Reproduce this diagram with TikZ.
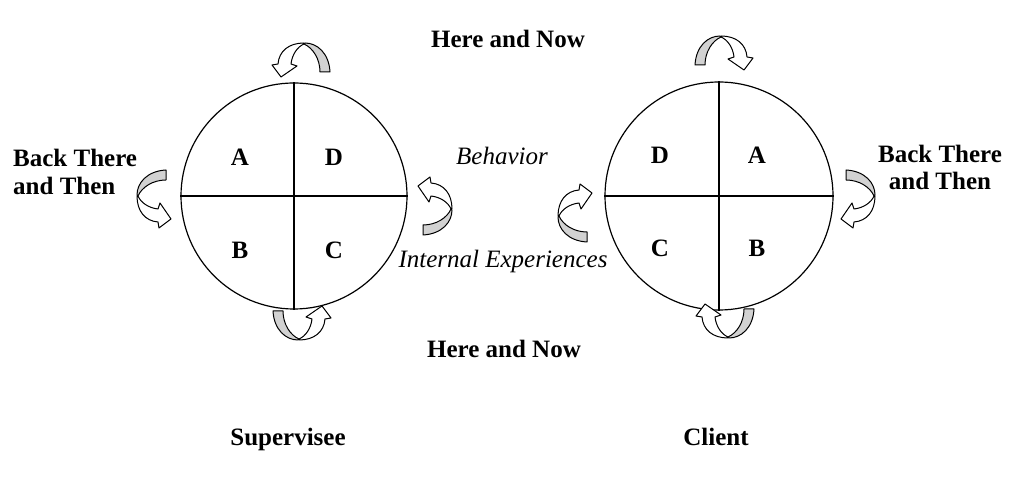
\documentclass[tikz,border=0pt]{standalone}
\usepackage{fontspec}
\setmainfont{Liberation Serif}
\begin{document}
\begin{tikzpicture}[x=1pt,y=1pt,
  lbl/.style={font=\fontsize{25}{28}\selectfont\bfseries, inner sep=0pt, anchor=base},
  itl/.style={font=\fontsize{25}{28}\selectfont\itshape, inner sep=0pt, anchor=base},
  quad/.style={font=\fontsize{25}{28}\selectfont\bfseries, inner sep=0pt},
  ring/.style={circle, draw, line width=1.2pt, inner sep=0pt},
  cross/.style={line width=1.2pt},
  ribback/.style={draw, line width=1pt, fill=gray!35, line join=round},
  ribfront/.style={draw, line width=1pt, fill=white, line join=round},
  rib/.pic={
    \path[ribback] (2,0) .. controls (14,0) and (26,-10) .. (27,-29) -- (17,-29)
        .. controls (17,-16) and (10,-5) .. (1,-1) -- cycle;
    \path[ribfront] (1,0) .. controls (-14,0) and (-24,-8) .. (-25,-21) -- (-31,-22)
        -- (-22,-34) -- (-6,-23) -- (-12,-21) .. controls (-11,-12) and (-6,-4) .. (1,-1) -- cycle;
  }]
\useasboundingbox (0,0) rectangle (1024,481);
% circles
\node[ring, minimum size=226pt] (L) at (294,285) {};
\node[ring, minimum size=228pt] (R) at (719,285) {};
\draw[cross] (L.north) -- (L.south);
\draw[cross] (L.west) -- (L.east);
\draw[cross] (R.north) -- (R.south);
\draw[cross] (R.west) -- (R.east);
% quadrant letters
\node[quad] (la) at (240,324) {A};
\node[quad] (ld) at (334,324) {D};
\node[quad] (lb) at (240,231) {B};
\node[quad] (lc) at (334,231) {C};
\node[quad] (rd) at (660,326) {D};
\node[quad] (ra) at (757,326) {A};
\node[quad] (rc) at (660,233) {C};
\node[quad] (rb) at (757,233) {B};
% labels
\node[lbl] (hn1) at (508,433) {Here and Now};
\node[lbl] (hn2) at (504,123) {Here and Now};
\node[lbl, anchor=base west] (bt1) at (13,314) {Back There};
\node[lbl, anchor=base west] (bt2) at (13,286) {and Then};
\node[lbl] (bt3) at (940,318) {Back There};
\node[lbl] (bt4) at (940,291) {and Then};
\node[itl] (beh) at (502,316) {Behavior};
\node[itl] (ie) at (503,213) {Internal Experiences};
\node[lbl] (sup) at (288,35) {Supervisee};
\node[lbl] (cli) at (716,35) {Client};
% ribbon arrows
\pic (a1) at (303,438) {rib};
\pic[xscale=-1] (a2) at (722,445) {rib};
\pic[rotate=90] (a3) at (137,284) {rib};
\pic[rotate=-90] (a4) at (452,273) {rib};
\pic[rotate=90, xscale=-1] (a5) at (558,266) {rib};
\pic[rotate=-90, xscale=-1] (a6) at (875,284) {rib};
\pic[rotate=180] (a7) at (300,141) {rib};
\pic[rotate=180, xscale=-1] (a8) at (727,143) {rib};
\end{tikzpicture}
\end{document}
